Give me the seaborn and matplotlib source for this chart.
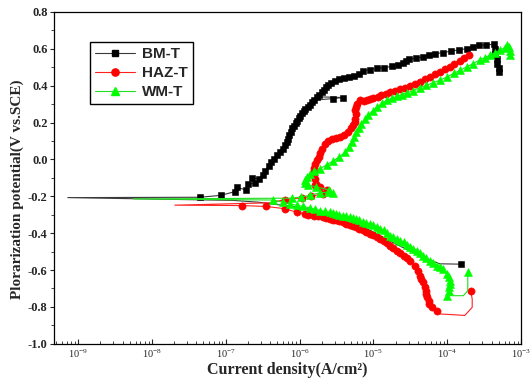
import numpy as np
import pandas as pd
import matplotlib
matplotlib.use("Agg")
import matplotlib.pyplot as plt
import seaborn as sns
from matplotlib.ticker import FixedLocator, MultipleLocator, FormatStrFormatter, FuncFormatter, NullFormatter
from matplotlib.lines import Line2D

series_names = ["BM-T", "HAZ-T", "WM-T"]

# ---- BM-T (log10 current density, potential), scan order ----
bm_logi = [-3.81, -4.10, -4.30, -4.50, -4.70, -4.90, -5.10, -5.30, -5.50, -5.70, -5.90, -6.10, -6.30, -6.55, -6.90,
           -9.14,
           -7.35, -7.07, -6.88, -6.85, -6.72, -6.70, -6.60, -6.65, -6.55, -6.50, -6.47, -6.42, -6.38, -6.35, -6.30,
           -6.26, -6.22, -6.19, -6.17, -6.15, -6.14, -6.12, -6.10, -6.07, -6.05, -6.03, -6.01, -5.99, -5.97, -5.94,
           -5.92, -5.89, -5.86, -5.83, -5.80, -5.55, -5.41, -5.76, -5.74, -5.70, -5.67, -5.64, -5.61, -5.57, -5.52,
           -5.47, -5.40, -5.33, -5.26, -5.20, -5.14, -5.05, -4.95, -4.85, -4.75, -4.66, -4.60, -4.56, -4.52, -4.42,
           -4.32, -4.24, -4.17, -4.06, -3.95, -3.84, -3.73, -3.65, -3.57, -3.47, -3.37, -3.35, -3.35, -3.33, -3.32,
           -3.30, -3.30]
bm_e = [-0.568, -0.566, -0.535, -0.497, -0.458, -0.415, -0.372, -0.335, -0.305, -0.285, -0.268, -0.255, -0.245,
        -0.232, -0.222,
        -0.207,
        -0.205, -0.195, -0.175, -0.152, -0.165, -0.135, -0.128, -0.100, -0.105, -0.085, -0.060, -0.035, -0.012,
        0.005, 0.022, 0.040, 0.059, 0.077, 0.095, 0.113, 0.131, 0.150, 0.168, 0.182, 0.197, 0.210, 0.223, 0.236,
        0.250, 0.263, 0.276, 0.287, 0.298, 0.310, 0.322, 0.330, 0.336, 0.340, 0.352, 0.365, 0.378, 0.392, 0.405,
        0.417, 0.427, 0.435, 0.440, 0.445, 0.452, 0.465, 0.480, 0.488, 0.494, 0.498, 0.505, 0.512, 0.522, 0.532,
        0.543, 0.550, 0.557, 0.565, 0.572, 0.580, 0.587, 0.595, 0.601, 0.610, 0.619, 0.621, 0.625, 0.600, 0.572,
        0.545, 0.520, 0.497, 0.475]

# ---- HAZ-T ----
haz_logi = [-3.68, -3.66, -3.66, -3.76, -4.10,
            -4.14, -4.21, -4.24, -4.25, -4.27, -4.28, -4.29, -4.30, -4.32, -4.35, -4.37, -4.39, -4.44, -4.50, -4.55,
            -4.59, -4.64, -4.68, -4.73, -4.77, -4.82, -4.86, -4.91, -4.95, -5.00, -5.05, -5.10, -5.14, -5.19, -5.23,
            -5.28, -5.32, -5.37, -5.41, -5.46, -5.50, -5.55, -5.59, -5.64, -5.68, -5.75, -5.81, -5.88, -5.93, -6.04,
            -6.20, -6.45, -6.78,
            -7.69, -6.40,
            -6.20, -5.97, -5.85, -5.68, -5.63, -5.72, -5.79, -5.77, -5.79, -5.81, -5.81, -5.80, -5.79, -5.76, -5.74,
            -5.72, -5.70, -5.66, -5.61, -5.56, -5.50, -5.45, -5.40, -5.34, -5.30, -5.27, -5.25, -5.25, -5.24, -5.25,
            -5.23, -5.22, -5.18, -5.13, -5.09, -5.04, -5.00, -4.94, -4.89, -4.83, -4.77, -4.70, -4.64, -4.57, -4.50,
            -4.43, -4.37, -4.30, -4.23, -4.16, -4.10, -4.03, -3.96, -3.90, -3.83, -3.77, -3.71]
haz_e = [-0.712, -0.757, -0.802, -0.846, -0.838,
         -0.820, -0.802, -0.784, -0.766, -0.748, -0.730, -0.712, -0.694, -0.667, -0.648, -0.630, -0.603, -0.576,
         -0.549, -0.535, -0.521, -0.508, -0.494, -0.480, -0.467, -0.453, -0.440, -0.431, -0.422, -0.412, -0.403,
         -0.394, -0.385, -0.376, -0.367, -0.362, -0.358, -0.349, -0.340, -0.335, -0.331, -0.326, -0.322, -0.317,
         -0.313, -0.308, -0.304, -0.300, -0.295, -0.286, -0.267, -0.255, -0.250,
         -0.248, -0.235,
         -0.218, -0.208, -0.200, -0.186, -0.165, -0.150, -0.141, -0.131, -0.104, -0.085, -0.068, -0.045, -0.023,
         -0.005, 0.013, 0.035, 0.059, 0.086, 0.102, 0.113, 0.118, 0.122, 0.132, 0.149, 0.168, 0.186, 0.205, 0.222,
         0.245, 0.267, 0.285, 0.303, 0.321, 0.318, 0.321, 0.326, 0.331, 0.340, 0.349, 0.356, 0.364, 0.372, 0.380,
         0.388, 0.397, 0.409, 0.422, 0.435, 0.448, 0.461, 0.475, 0.489, 0.503, 0.518, 0.535, 0.550, 0.566]

# ---- WM-T ----
wm_logi = [-3.72, -3.72, -3.78, -4.00,
           -3.98, -3.98, -3.96, -3.96, -3.98, -4.00, -4.05, -4.10, -4.14, -4.19, -4.23, -4.28, -4.32, -4.37, -4.41,
           -4.46, -4.50, -4.55, -4.59, -4.64, -4.68, -4.73, -4.77, -4.82, -4.86, -4.91, -4.95, -5.00, -5.05, -5.10,
           -5.14, -5.19, -5.23, -5.28, -5.32, -5.37, -5.41, -5.46, -5.50, -5.55, -5.59, -5.66, -5.72, -5.79, -5.86,
           -5.95, -6.04, -6.13, -6.22, -6.36,
           -8.25,
           -6.10, -5.98, -5.86, -5.72, -5.62, -5.54, -5.60, -5.77, -5.88, -5.93, -5.92, -5.90, -5.86, -5.80, -5.72,
           -5.63, -5.54, -5.46, -5.38, -5.33, -5.29, -5.26, -5.23, -5.19, -5.16, -5.11, -5.07, -5.01, -4.95, -4.88,
           -4.82, -4.75, -4.68, -4.61, -4.55, -4.46, -4.37, -4.28, -4.19, -4.10, -4.00, -3.91, -3.82, -3.73, -3.65,
           -3.56, -3.49, -3.42, -3.35, -3.28, -3.22, -3.19, -3.16, -3.15, -3.15]
wm_e = [-0.608, -0.712, -0.739, -0.739,
        -0.715, -0.694, -0.675, -0.657, -0.640, -0.621, -0.594, -0.585, -0.576, -0.562, -0.549, -0.535, -0.521,
        -0.508, -0.494, -0.485, -0.476, -0.462, -0.449, -0.440, -0.431, -0.422, -0.413, -0.399, -0.385, -0.376,
        -0.367, -0.358, -0.349, -0.344, -0.340, -0.331, -0.322, -0.318, -0.313, -0.308, -0.304, -0.300, -0.295,
        -0.290, -0.286, -0.281, -0.277, -0.270, -0.262, -0.255, -0.249, -0.240, -0.232, -0.220,
        -0.214,
        -0.210, -0.203, -0.195, -0.180, -0.178, -0.180, -0.165, -0.149, -0.140, -0.128, -0.110, -0.095, -0.080,
        -0.065, -0.050, -0.028, -0.008, 0.015, 0.040, 0.068, 0.095, 0.122, 0.149, 0.172, 0.195, 0.218, 0.240,
        0.263, 0.285, 0.304, 0.321, 0.332, 0.342, 0.352, 0.362, 0.372, 0.390, 0.402, 0.416, 0.430, 0.448, 0.467,
        0.485, 0.503, 0.520, 0.539, 0.552, 0.566, 0.580, 0.593, 0.607, 0.621, 0.610, 0.590, 0.566]

x_tick_exponents = [-9, -8, -7, -6, -5, -4, -3]

# ---------------- styling ----------------
sns.set_style("ticks")
plt.rcParams["font.family"] = ["Liberation Serif", "DejaVu Serif"]
plt.rcParams["mathtext.fontset"] = "custom"
plt.rcParams["mathtext.rm"] = "Liberation Sans:bold"
plt.rcParams["mathtext.it"] = "Liberation Sans:bold"
plt.rcParams["mathtext.bf"] = "Liberation Sans:bold"

frames = []
for name, li, ee in [("BM-T", bm_logi, bm_e), ("HAZ-T", haz_logi, haz_e), ("WM-T", wm_logi, wm_e)]:
    frames.append(pd.DataFrame({"series": name,
                                "current": np.power(10.0, np.array(li, dtype=float)),
                                "potential": np.array(ee, dtype=float)}))
df = pd.concat(frames, ignore_index=True)

styles = {
    "BM-T": dict(line="#3a3a3a", face="black", marker="s", ms=4.8,
                 nomark=set(range(1, 16))),
    "HAZ-T": dict(line="#ff2020", face="#ff0000", marker="o", ms=5.2,
                  nomark={1, 2, 3, 4, 53, 54}),
    "WM-T": dict(line="#20e020", face="#00ff00", marker="^", ms=5.8,
                 nomark={1, 2, 54}),
}

fig = plt.figure(figsize=(5.31, 3.82), dpi=100)
ax = fig.add_axes([0.1026, 0.100, 0.8784, 0.8686])
ax.set_xscale("log")

for name in series_names:
    st = styles[name]
    sub = df[df["series"] == name].reset_index(drop=True)
    mev = [i for i in range(len(sub)) if i not in st["nomark"]]
    sns.lineplot(data=sub, x="current", y="potential", sort=False, estimator=None, ax=ax,
                 color=st["line"], lw=0.8, marker=st["marker"], markersize=st["ms"],
                 markerfacecolor=st["face"], markeredgecolor=st["face"], markeredgewidth=0.4,
                 markevery=mev, legend=False)

xmin_exp, xmax_exp = -9.32, -3.0
ax.set_xlim(10 ** xmin_exp, 10 ** xmax_exp)
ax.set_ylim(-1.0, 0.8)

major_x = [10.0 ** e for e in x_tick_exponents]
minor_x = [m * 10.0 ** e for e in range(-10, -3) for m in range(2, 10)
           if 10 ** xmin_exp <= m * 10.0 ** e <= 10 ** xmax_exp]
ax.xaxis.set_major_locator(FixedLocator(major_x))
ax.xaxis.set_minor_locator(FixedLocator(minor_x))
ax.xaxis.set_minor_formatter(NullFormatter())
ax.xaxis.set_major_formatter(FuncFormatter(lambda v, p: r"$\mathregular{10^{%d}}$" % int(round(np.log10(v)))))
ax.yaxis.set_major_locator(MultipleLocator(0.2))
ax.yaxis.set_minor_locator(MultipleLocator(0.1))
ax.yaxis.set_major_formatter(FormatStrFormatter("%.1f"))

ax.tick_params(axis="x", which="major", direction="in", length=3.5, width=0.8, pad=2.5, labelsize=7.5)
ax.tick_params(axis="x", which="minor", direction="in", length=2.2, width=0.6)
ax.tick_params(axis="y", which="major", direction="out", length=3, width=0.8, pad=2, labelsize=9)
ax.tick_params(axis="y", which="minor", direction="out", length=2, width=0.6)
for lab in ax.get_yticklabels():
    lab.set_fontweight("bold")
    lab.set_family(["Liberation Serif", "DejaVu Serif"])

for sp in ax.spines.values():
    sp.set_color("black")
    sp.set_linewidth(0.9)

ax.set_xlabel("Current density(A/cm²)", fontsize=11.5, fontweight="bold", labelpad=1.5)
ax.set_ylabel("Plorarization potential(V vs.SCE)", fontsize=11, fontweight="bold")
ax.yaxis.set_label_coords(-0.066, 0.465)

handles = []
for name in series_names:
    st = styles[name]
    handles.append(Line2D([], [], color=st["line"], lw=0.8, marker=st["marker"], markersize=st["ms"],
                          markerfacecolor=st["face"], markeredgecolor=st["face"]))
leg = ax.legend(handles, series_names, loc="upper left", bbox_to_anchor=(0.076, 0.91), borderaxespad=0,
                frameon=True, fancybox=False, edgecolor="black", framealpha=1, handlelength=2.6,
                handletextpad=0.45, labelspacing=0.32, borderpad=0.35,
                prop={"family": ["Liberation Sans", "DejaVu Sans"], "weight": "bold", "size": 11})
leg.get_frame().set_linewidth(1.0)

fig.savefig("out.png", dpi=100)
